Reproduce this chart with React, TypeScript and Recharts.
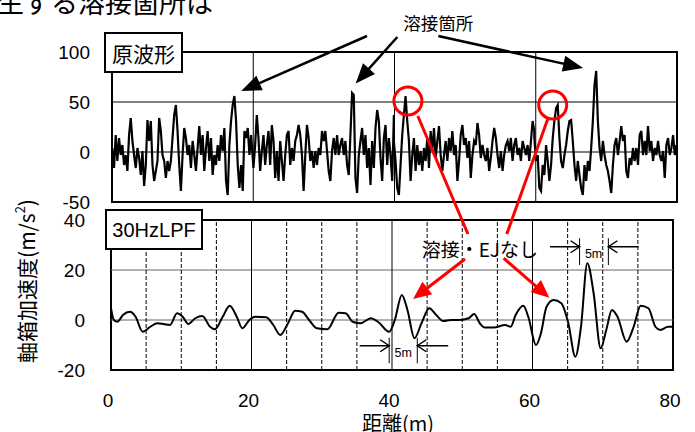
import React from "react";
import {
  LineChart,
  Line,
  XAxis,
  YAxis,
  ReferenceLine,
  ReferenceArea,
  ReferenceDot,
} from "recharts";

// raw waveform, sampled every RAW_STEP metres from each segment start
const RAW_STEP = 0.2367;
const rawStarts = [0.05, 20.03, 39.91, 59.8];
const raw0to20 = [
  4, -16, 17, -9, 14, -3, 7, -13, -3, -19, 17, 34, 11, -3, -16, 4, -6, -23, 1, -34,
  -13, 32, 11, 31, -13, -29, -19, -9, 34, 21, -3, -9, -26, -9, -19, -9, 14, 37, 47, 21,
  -13, -39, -3, 24, 14, -3, 7, -16, 11, -3, -19, 4, 26, -3, 17, -19, 4, 21, -9, 14,
  -23, -3, -13, 7, -9, 17, 1, 24, -29, -43, 7, 31, 47, 56, 31, -13, -36, -13, -39, 21,
  14, 24, -3, 17,
];
const raw20to40 = [
  -16, 7, 37, 14, -19, 1, 17, -13, 7, 21, -13, 27, 11, -26, 1, -29, 11, -9, -29, -3,
  17, 21, -13, 4, -9, 11, 17, 27, 17, -3, -39, -3, 27, 14, -9, 1, -16, 1, -13, 4,
  -3, 21, 11, 21, 1, -19, -29, 1, 14, -3, 17, -3, 7, 14, -3, 11, -13, -23, 17, 59,
  57, -26, -41, -3, 11, 24, -3, 17, -16, 4, -33, 11, -16, 24, 42, 31, -6, -29, 14, 27,
  -13, 14, -3, -29, 37,
];
const raw40to60 = [
  11, -9, -36, -43, -13, 17, 37, 56, 31, 11, -29, -3, 14, -19, 7, -13, 1, -19, 4, -9,
  14, -16, 21, 1, 24, -6, 11, 26, -3, -19, -3, 11, -9, 14, 1, 21, -3, 7, -29, -9,
  17, 27, 7, 14, -6, 11, -26, -3, 11, 7, 29, 17, -6, 7, -3, -9, 4, -19, -6, 11,
  24, 14, -3, -16, 1, -19, -3, 7, 11, 1, 14, -9, 7, 14, -3, 4, -9, 11, 4, -3,
  7, -9, 11, 31, 21,
];
const raw60to80 = [
  14, -9, -3, -36, -39, -13, -23, 7, -9, -29, -13, 14, 31, 44, 47, 14, -9, -16, -3, 7,
  21, 31, 32, 11, -13, -29, -9, -23, -36, -43, -13, -29, -9, -19, 4, 31, 67, 81, 31, 4,
  -9, 11, -3, -13, -19, -29, -41, -13, 7, 14, -3, 11, 26, 11, 17, -19, -26, -6, -13, 4,
  -9, 4, -13, 17, 21, -3, 11, -3, 26, 1, 11, -9, 4, -3, 11, -3, -9, 1, -26, 7,
  14, -3, 4, 17, -3, 7,
];

// 30Hz low-pass filtered waveform
const lpfDist = [
  0, 0.4, 0.9, 1.7, 2.7, 3.5, 4.5, 5.6, 6.6, 7.6, 8.4, 9.4, 10.2, 11.0, 12.0, 13.0,
  14.1, 14.8, 15.9, 16.9, 17.9, 18.7, 19.7, 20.5, 22.1, 23.1, 24.1, 25.2, 26.2, 27.2,
  28.2, 29.3, 30.8, 32.4, 33.4, 34.4, 35.5, 37.0, 38.0, 39.6, 40.4, 41.4, 42.2, 43.2,
  44.2, 45.3, 46.3, 47.3, 48.4, 49.6, 50.9, 51.7, 52.5, 53.2, 54.5, 56.1, 56.9, 57.6,
  58.7, 59.4, 60.5, 61.2, 62.0, 63.0, 64.1, 65.1, 66.1, 66.9, 67.8, 68.7, 69.7, 70.5,
  71.3, 72.1, 73.4, 74.4, 75.4, 76.5, 77.5, 78.2, 79.3, 80,
];
const lpfAccel = [
  4.7, 0, -0.7, 2, 3.3, 1.3, -4.7, -2.7, -1.3, -1.7, -2, 2.7, 1.3, -1.6, 0.7, 1.6,
  -2.7, -3.7, 1.3, 5.7, 1.3, -3.3, 0, 1.3, 1.1, -2, -6, -1.3, 3.7, 3.3,
  0, -3.3, -3.7, 2.9, 2.7, -0.7, -1.3, 0.7, -0.7, -4.7, 0, 10, 4, -7.3,
  -1.3, 4.7, 2, -0.4, 0, 0, 0.7, 2.4, -1.3, -3, -3, -2, -2.7, 2,
  5.7, 1.3, -10, -5.3, 5.3, 8, 6.7, -1.3, -14.7, -2.7, 22.7, 10.7, -11.3, -4,
  4, 1.3, -8.7, -2.7, 5.7, 4.7, -2.7, -4, -2.7, -2.7,
];

const rawTicksY = [-50, 0, 50, 100];
const lpfTicksY = [-20, 0, 20, 40];
const distTicks = [0, 20, 40, 60, 80];
const rawGridX = [20, 40, 60];
const rawGridY = [0, 50];
const lpfGridSolid = [20, 40, 60];
const lpfGridDashed = [5, 10, 15, 25, 30, 35, 45, 50, 55, 65, 70, 75];
const lpfGridY = [0, 20];

const rawData = [raw0to20, raw20to40, raw40to60, raw60to80].flatMap((seg, s) =>
  seg.map((v, i) => ({ x: rawStarts[s] + i * RAW_STEP, v }))
);
const lpfData = lpfDist.map((x, i) => ({ x, v: lpfAccel[i] }));

const JP = '"Noto Sans CJK JP", sans-serif';
const SANS = '"Liberation Sans", Arial, sans-serif';
const RED = "#ff0000";

// line with an arrow head at (x2, y2)
const arrow =
  (color: string, w: number, len: number, half: number, open = false) =>
  (p: any) => {
    const { x1, y1, x2, y2 } = p;
    const a = Math.atan2(y2 - y1, x2 - x1);
    const c = Math.cos(a);
    const s = Math.sin(a);
    const bx = x2 - len * c;
    const by = y2 - len * s;
    const pts = `${bx + half * s},${by - half * c} ${x2},${y2} ${bx - half * s},${by + half * c}`;
    if (open) {
      return (
        <g>
          <line x1={x1} y1={y1} x2={x2} y2={y2} stroke={color} strokeWidth={w} />
          <polyline points={pts} fill="none" stroke={color} strokeWidth={w} />
        </g>
      );
    }
    return (
      <g>
        <line x1={x1} y1={y1} x2={bx + 2 * c} y2={by + 2 * s} stroke={color} strokeWidth={w} />
        <polygon points={pts} fill={color} />
      </g>
    );
  };

const textAt = (label: string, size: number, family: string) => (p: any) => (
  <text
    x={p.cx}
    y={p.cy}
    fontSize={size}
    fontFamily={family}
    textAnchor="middle"
    dominantBaseline="central"
    fill="#000"
  >
    {label}
  </text>
);

const tickStyle = { fill: "#000", fontSize: 19, fontFamily: SANS };

export default function App() {
  return (
    <div
      style={{
        position: "absolute",
        left: 0,
        top: 0,
        width: 695,
        height: 432,
        background: "#fff",
        overflow: "hidden",
      }}
    >
      {/* 30HzLPF panel */}
      <div style={{ position: "absolute", left: 0, top: 0 }}>
        <LineChart
          width={695}
          height={432}
          data={lpfData}
          margin={{ top: 220, right: 22, bottom: 32, left: 51 }}
        >
          <XAxis
            dataKey="x"
            type="number"
            domain={[0, 80]}
            ticks={distTicks}
            interval={0}
            height={30}
            axisLine={false}
            tickLine={false}
            tickSize={0}
            tickMargin={24}
            tick={{ ...tickStyle, dx: -3 }}
          />
          <YAxis
            type="number"
            domain={[-20, 40]}
            ticks={lpfTicksY}
            interval={0}
            width={60}
            axisLine={false}
            tickLine={false}
            tickSize={0}
            tickMargin={26}
            tick={tickStyle}
          />
          {lpfGridY.map((y) => (
            <ReferenceLine key={"h" + y} y={y} stroke="#666" strokeWidth={1} />
          ))}
          {lpfGridDashed.map((x) => (
            <ReferenceLine key={"d" + x} x={x} stroke="#000" strokeWidth={1} strokeDasharray="4 2" />
          ))}
          {lpfGridSolid.map((x) => (
            <ReferenceLine key={"s" + x} x={x} stroke="#000" strokeWidth={1} />
          ))}
          <ReferenceArea x1={0} x2={80} y1={-20} y2={40} fill="none" stroke="#000" strokeWidth={2} />
          <Line
            dataKey="v"
            type="monotone"
            stroke="#000"
            strokeWidth={2}
            dot={false}
            isAnimationActive={false}
          />
          {/* annotations */}
          <ReferenceDot x={52.5} y={28.8} r={0} ifOverflow="visible" shape={textAt("溶接・EJなし", 19, JP)} />
          <ReferenceLine segment={[{ x: 50.4, y: 24.4 }, { x: 43.0, y: 8.4 }]} ifOverflow="visible" shape={arrow(RED, 3, 18, 8)} />
          <ReferenceLine segment={[{ x: 55.9, y: 24.7 }, { x: 62.4, y: 8.9 }]} ifOverflow="visible" shape={arrow(RED, 3, 18, 8)} />
          <ReferenceLine segment={[{ x: 39.6, y: -7.1 }, { x: 39.6, y: -17.3 }]} ifOverflow="visible" stroke="#000" strokeWidth={1} />
          <ReferenceLine segment={[{ x: 43.6, y: -7.1 }, { x: 43.6, y: -17.3 }]} ifOverflow="visible" stroke="#000" strokeWidth={1} />
          <ReferenceLine segment={[{ x: 35.4, y: -10.3 }, { x: 39.6, y: -10.3 }]} ifOverflow="visible" shape={arrow("#000", 1.5, 9, 6, true)} />
          <ReferenceLine segment={[{ x: 48.0, y: -10.3 }, { x: 43.6, y: -10.3 }]} ifOverflow="visible" shape={arrow("#000", 1.5, 9, 6, true)} />
          <ReferenceDot x={41.6} y={-13} r={0} ifOverflow="visible" shape={textAt("5m", 12.5, SANS)} />
          <ReferenceLine segment={[{ x: 66.7, y: 32.7 }, { x: 66.7, y: 22 }]} ifOverflow="visible" stroke="#000" strokeWidth={1} />
          <ReferenceLine segment={[{ x: 70.8, y: 32.7 }, { x: 70.8, y: 22 }]} ifOverflow="visible" stroke="#000" strokeWidth={1} />
          <ReferenceLine segment={[{ x: 62.5, y: 29.3 }, { x: 66.7, y: 29.3 }]} ifOverflow="visible" shape={arrow("#000", 1.5, 9, 6, true)} />
          <ReferenceLine segment={[{ x: 75.1, y: 29.3 }, { x: 70.8, y: 29.3 }]} ifOverflow="visible" shape={arrow("#000", 1.5, 9, 6, true)} />
          <ReferenceDot x={68.7} y={26.6} r={0} ifOverflow="visible" shape={textAt("5m", 12.5, SANS)} />
        </LineChart>
      </div>

      {/* raw waveform panel */}
      <div style={{ position: "absolute", left: 0, top: 0 }}>
        <LineChart
          width={695}
          height={432}
          data={rawData}
          margin={{ top: 52, right: 18, bottom: 230, left: 52 }}
        >
          <XAxis dataKey="x" type="number" domain={[0, 80]} ticks={distTicks} hide height={0} />
          <YAxis
            type="number"
            domain={[-50, 100]}
            ticks={rawTicksY}
            interval={0}
            width={60}
            axisLine={false}
            tickLine={false}
            tickSize={0}
            tickMargin={22}
            tick={tickStyle}
          />
          {rawGridY.map((y) => (
            <ReferenceLine key={"h" + y} y={y} stroke="#000" strokeWidth={1} />
          ))}
          {rawGridX.map((x) => (
            <ReferenceLine key={"v" + x} x={x} stroke="#000" strokeWidth={1} />
          ))}
          <ReferenceArea x1={0} x2={80} y1={-50} y2={100} fill="none" stroke="#000" strokeWidth={2} />
          <Line
            dataKey="v"
            type="linear"
            stroke="#000"
            strokeWidth={2.2}
            dot={false}
            isAnimationActive={false}
          />
          {/* annotations */}
          <ReferenceDot x={46.2} y={130} r={0} ifOverflow="visible" shape={textAt("溶接箇所", 17.5, JP)} />
          <ReferenceLine segment={[{ x: 36.1, y: 116 }, { x: 18.3, y: 61 }]} ifOverflow="visible" shape={arrow("#000", 2.5, 20, 8)} />
          <ReferenceLine segment={[{ x: 40.4, y: 115 }, { x: 34.5, y: 68.5 }]} ifOverflow="visible" shape={arrow("#000", 2.5, 20, 8)} />
          <ReferenceLine segment={[{ x: 46.2, y: 116 }, { x: 66.7, y: 84 }]} ifOverflow="visible" shape={arrow("#000", 2.5, 20, 8)} />
          <ReferenceLine segment={[{ x: 43.3, y: 36 }, { x: 50.4, y: -82 }]} ifOverflow="visible" stroke={RED} strokeWidth={3} />
          <ReferenceLine segment={[{ x: 61.7, y: 33 }, { x: 55.9, y: -82 }]} ifOverflow="visible" stroke={RED} strokeWidth={3} />
          <ReferenceDot x={41.9} y={51} r={14} ifOverflow="visible" fill="none" stroke={RED} strokeWidth={3} />
          <ReferenceDot x={62.4} y={47} r={14} ifOverflow="visible" fill="none" stroke={RED} strokeWidth={3} />
        </LineChart>
      </div>

      {/* titles and panel labels */}
      <svg
        width={695}
        height={432}
        style={{ position: "absolute", left: 0, top: 0, pointerEvents: "none" }}
      >
        <text x={-3} y={13} fontSize={27} fontFamily={JP} fill="#000">
          生ずる溶接箇所は
        </text>
        <rect x={105} y={33} width={77} height={39} fill="#fff" stroke="#000" strokeWidth={2} />
        <text x={143.5} y={52.5} fontSize={21} fontFamily={JP} textAnchor="middle" dominantBaseline="central" fill="#000">
          原波形
        </text>
        <rect x={106} y={210} width={96} height={39} fill="#fff" stroke="#000" strokeWidth={2} />
        <text x={154} y={229.5} fontSize={20} fontFamily={SANS} textAnchor="middle" dominantBaseline="central" fill="#000">
          30HzLPF
        </text>
        <text
          transform="translate(26,281) rotate(-90)"
          fontSize={21}
          fontFamily={JP}
          textAnchor="middle"
          dominantBaseline="central"
          fill="#000"
        >
          軸箱加速度(m/s
          <tspan fontSize={13} dy={-7}>2</tspan>
          <tspan dy={7}>)</tspan>
        </text>
        <text x={398} y={422} fontSize={20} fontFamily={JP} textAnchor="middle" dominantBaseline="central" fill="#000">
          距離(m)
        </text>
      </svg>
    </div>
  );
}
